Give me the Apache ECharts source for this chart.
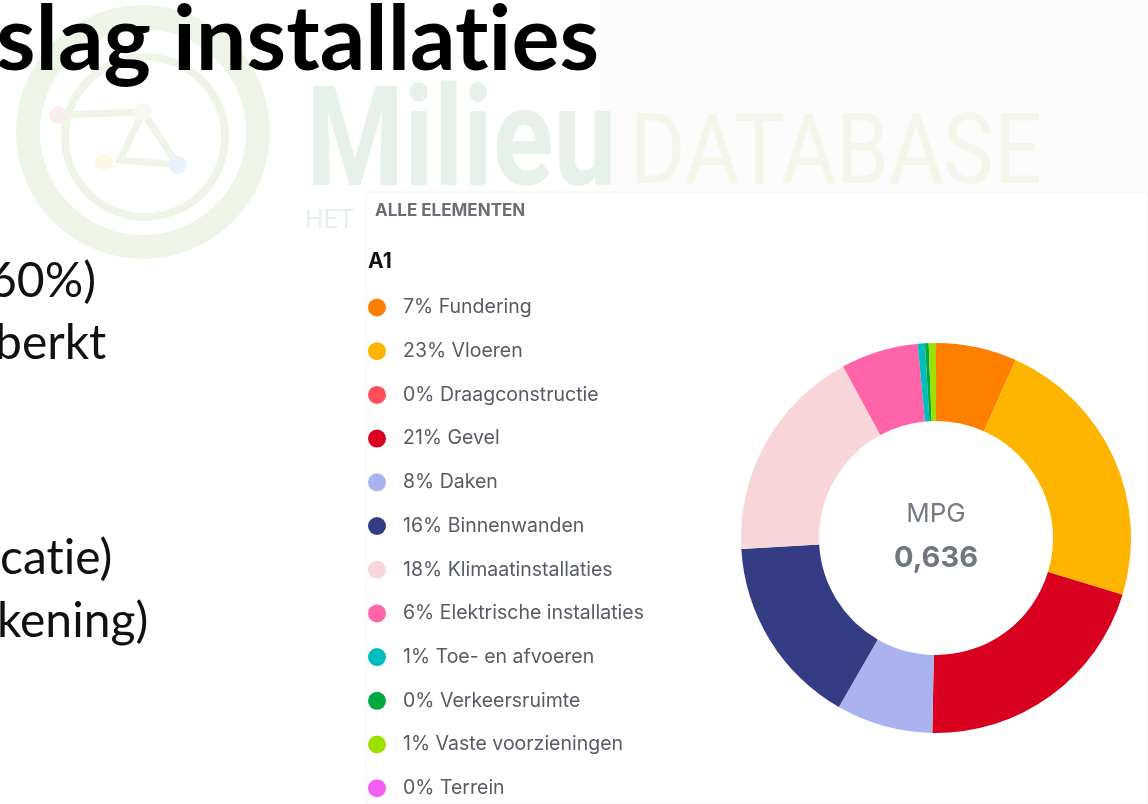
<!DOCTYPE html>
<html>
<head>
<meta charset="utf-8">
<script src="https://cdn.jsdelivr.net/npm/echarts@6/dist/echarts.min.js"></script>
<style>
    html, body { margin: 0; padding: 0; background: #ffffff; }
    #main { width: 1148px; height: 804px; }
</style>
</head>
<body>
<div id="main"></div>
<script>
// MPG-verdeling per element (A1)
const elementNames = [
    'Fundering', 'Vloeren', 'Draagconstructie', 'Gevel', 'Daken', 'Binnenwanden',
    'Klimaatinstallaties', 'Elektrische installaties', 'Toe- en afvoeren',
    'Verkeersruimte', 'Vaste voorzieningen', 'Terrein'
];
const elementValues = [6.7, 23.0, 0, 20.6, 8.0, 15.8, 18.0, 6.4, 0.6, 0.3, 0.6, 0];
const elementColors = [
    '#ff7f00', '#ffb400', '#ff4d5a', '#d9001f', '#abb3ef', '#343d84',
    '#f8d5d8', '#ff63a8', '#00bdbd', '#00a841', '#9fdf00', '#f55ef5'
];
const mpgValue = '0,636';

const eChart = echarts.init(document.getElementById('main'));
const total = elementValues.reduce((a, b) => a + b, 0);
const pieData = elementNames.map((name, i) => ({
    name: name,
    value: elementValues[i],
    itemStyle: { color: elementColors[i] }
}));

// achtergrond van de dia (watermerk + tekst)
const faint = '#e6f2e9';
const ring = '#eef5e7';
const slideText = '48px Lato';
const slideGraphics = [
    { type: 'rect', shape: { x: 600, y: 0, width: 548, height: 190 }, style: { fill: '#fcfcfc' }, z: -10 },
    // logo cirkel
    { type: 'circle', shape: { cx: 143, cy: 132, r: 115 }, style: { fill: 'none', stroke: ring, lineWidth: 24 }, z: -9 },
    { type: 'circle', shape: { cx: 145, cy: 137, r: 80 }, style: { fill: 'none', stroke: ring, lineWidth: 8 }, z: -9 },
    { type: 'polyline', shape: { points: [[58, 115], [143, 112], [120, 160], [178, 165], [143, 112]] }, style: { fill: 'none', stroke: ring, lineWidth: 7 }, z: -9 },
    { type: 'circle', shape: { cx: 58, cy: 115, r: 9 }, style: { fill: '#fbecec' }, z: -8 },
    { type: 'circle', shape: { cx: 143, cy: 112, r: 9 }, style: { fill: '#f7f9f1' }, z: -8 },
    { type: 'circle', shape: { cx: 104, cy: 162, r: 9 }, style: { fill: '#fdf7e3' }, z: -8 },
    { type: 'circle', shape: { cx: 178, cy: 165, r: 9 }, style: { fill: '#e7f2fa' }, z: -8 },
    { type: 'text', left: 306, top: 80, scaleX: 0.8, style: { text: 'Milieu', font: 'bold 140px Roboto', fill: faint }, z: -8 },
    { type: 'text', left: 630, top: 109, scaleX: 0.86, style: { text: 'DATABASE', font: '98px Roboto', fill: '#f3f6e9' }, z: -8 },
    { type: 'text', left: 305, top: 208, style: { text: 'HET', font: '26px Roboto', fill: faint }, z: -8 },
    // paneel
    { type: 'rect', shape: { x: 366, y: 192, width: 782, height: 612 }, style: { fill: '#ffffff', stroke: '#f3f3f3', lineWidth: 1 }, z: -5 },
    // dia-tekst
    { type: 'text', left: -4, top: -4, style: { text: 'slag installat\u200Cies', font: 'bold 90px Lato', fill: '#000000' } },
    { type: 'text', left: -11, top: 258, style: { text: '60%)', font: slideText, fill: '#111111' } },
    { type: 'text', left: -5, top: 320, style: { text: 'berkt', font: slideText, fill: '#111111' } },
    { type: 'text', left: 0, top: 535, style: { text: 'cat\u200Cie)', font: slideText, fill: '#111111' } },
    { type: 'text', left: -3, top: 598, style: { text: 'kening)', font: slideText, fill: '#111111' } },
    // paneelkop
    { type: 'text', left: 375, top: 202, style: { text: 'ALLE ELEMENTEN', font: 'bold 17px Inter', fill: '#6b6f75' } },
    { type: 'text', left: 368, top: 251, style: { text: 'A1', font: 'bold 21px Inter', fill: '#111111' } },
    // midden van de donut
    { type: 'text', x: 936, y: 514, style: { text: 'MPG', font: '26px Inter', fill: '#747b83', textAlign: 'center', textVerticalAlign: 'middle' } },
    { type: 'text', x: 936, y: 558, style: { text: mpgValue, font: 'bold 29px Inter', fill: '#6f767e', textAlign: 'center', textVerticalAlign: 'middle' } }
];

const option = {
    animation: false,
    backgroundColor: '#ffffff',
    graphic: slideGraphics,
    legend: {
        orient: 'vertical',
        left: 368,
        top: 297.5,
        height: 520,
        padding: 0,
        icon: 'circle',
        itemWidth: 18,
        itemHeight: 18,
        itemGap: 23.7,
        selectedMode: false,
        data: elementNames,
        formatter: function(name) {
            const idx = elementNames.indexOf(name);
            return Math.round(elementValues[idx] / total * 100) + '% ' + name;
        },
        textStyle: {
            fontFamily: 'Inter',
            fontSize: 19.5,
            color: '#575b62',
            padding: [0, 0, 0, 12]
        }
    },
    series: [
        {
            type: 'pie',
            center: [936, 538],
            radius: [117, 195],
            startAngle: 90,
            clockwise: true,
            avoidLabelOverlap: false,
            label: { show: false },
            labelLine: { show: false },
            emphasis: { disabled: true },
            itemStyle: { borderWidth: 0 },
            data: pieData
        }
    ]
};
eChart.setOption(option);
</script>
</body>
</html>
